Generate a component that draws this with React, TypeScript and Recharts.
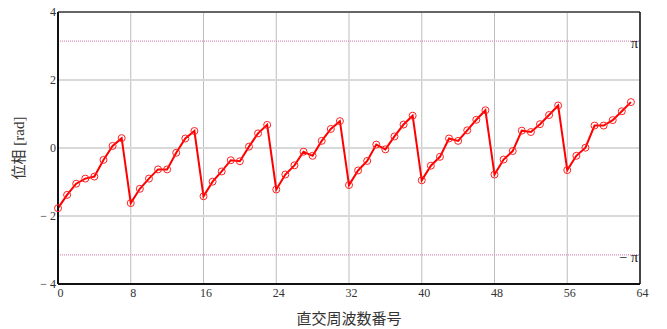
import React from 'react';
import { LineChart, Line, XAxis, YAxis, CartesianGrid, ReferenceLine } from 'recharts';

const subcarrier = [
  0, 1, 2, 3, 4, 5, 6, 7, 8, 9, 10, 11, 12, 13, 14, 15,
  16, 17, 18, 19, 20, 21, 22, 23, 24, 25, 26, 27, 28, 29, 30, 31,
  32, 33, 34, 35, 36, 37, 38, 39, 40, 41, 42, 43, 44, 45, 46, 47,
  48, 49, 50, 51, 52, 53, 54, 55, 56, 57, 58, 59, 60, 61, 62, 63,
];

const phase = [
  -1.77, -1.38, -1.05, -0.9, -0.84, -0.35, 0.06, 0.29,
  -1.62, -1.2, -0.9, -0.63, -0.63, -0.14, 0.28, 0.5,
  -1.42, -0.99, -0.69, -0.36, -0.39, 0.04, 0.43, 0.68,
  -1.22, -0.78, -0.51, -0.11, -0.23, 0.21, 0.56, 0.79,
  -1.09, -0.66, -0.38, 0.1, -0.04, 0.34, 0.69, 0.95,
  -0.95, -0.52, -0.26, 0.28, 0.21, 0.52, 0.83, 1.11,
  -0.78, -0.34, -0.09, 0.51, 0.47, 0.7, 0.97, 1.25,
  -0.65, -0.23, 0.01, 0.66, 0.66, 0.82, 1.08, 1.35,
];

const xTicks = [0, 8, 16, 24, 32, 40, 48, 56, 64];
const yTicks = [-4, -2, 0, 2, 4];
const yGrid = [-2, 0, 2];

const data = subcarrier.map((x, i) => ({ x, y: phase[i] }));

const SERIF = 'Liberation Serif, Noto Sans CJK JP, serif';

const fmtY = (v: number) => (v < 0 ? `\u2212 ${Math.abs(v)}` : `${v}`);

export default function App() {
  return (
    <div style={{ position: 'absolute', left: 0, top: 0, background: '#fff', fontFamily: SERIF }}>
      <LineChart
        width={667}
        height={329}
        data={data}
        margin={{ top: 12, right: 27, bottom: 0, left: 0 }}
        style={{ fontFamily: SERIF }}
      >
        <CartesianGrid horizontal={false} vertical stroke="#bdbdbd" strokeWidth={1} />
        {yGrid.map((g) => (
          <ReferenceLine key={g} y={g} stroke="#d9d9d9" strokeWidth={2} />
        ))}
        <ReferenceLine
          y={Math.PI}
          stroke="#dc8fbc"
          strokeWidth={1.2}
          strokeDasharray="1 1"
          label={{ value: 'π', position: 'insideRight', offset: 2, dy: 2, fill: '#111', fontSize: 14, fontFamily: SERIF }}
        />
        <ReferenceLine
          y={-Math.PI}
          stroke="#dc8fbc"
          strokeWidth={1.2}
          strokeDasharray="1 1"
          label={{ value: '\u2212 π', position: 'insideRight', offset: 2, dy: 2, fill: '#111', fontSize: 14, fontFamily: SERIF }}
        />
        <ReferenceLine y={4} stroke="#666" strokeWidth={2} />
        <ReferenceLine x={64} stroke="#111" strokeWidth={1.5} />
        <XAxis
          dataKey="x"
          type="number"
          domain={[0, 64]}
          ticks={xTicks}
          interval={0}
          height={45}
          tickLine={false}
          tickSize={4}
          tickMargin={0}
          axisLine={{ stroke: '#111', strokeWidth: 2 }}
          tick={{ fontSize: 12, fill: '#333', fontFamily: SERIF, dx: 2.5 }}
          label={{ value: '直交周波数番号', position: 'insideBottom', offset: 5, fontSize: 15, fill: '#333', fontFamily: SERIF }}
        />
        <YAxis
          type="number"
          domain={[-4, 4]}
          ticks={yTicks}
          interval={0}
          width={58}
          tickLine={false}
          tickSize={2}
          tickMargin={0}
          tickFormatter={fmtY}
          axisLine={{ stroke: '#111', strokeWidth: 2 }}
          tick={{ fontSize: 12, fill: '#333', fontFamily: SERIF }}
          label={{ value: '位相 [rad]', angle: -90, position: 'insideLeft', offset: 19, fontSize: 15, fill: '#333', fontFamily: SERIF, style: { textAnchor: 'middle' } }}
        />
        <Line
          type="linear"
          dataKey="y"
          stroke="#ff0000"
          strokeWidth={2}
          dot={{ r: 3.5, stroke: '#ff2020', strokeWidth: 1, fill: 'none' }}
          isAnimationActive={false}
        />
      </LineChart>
    </div>
  );
}
